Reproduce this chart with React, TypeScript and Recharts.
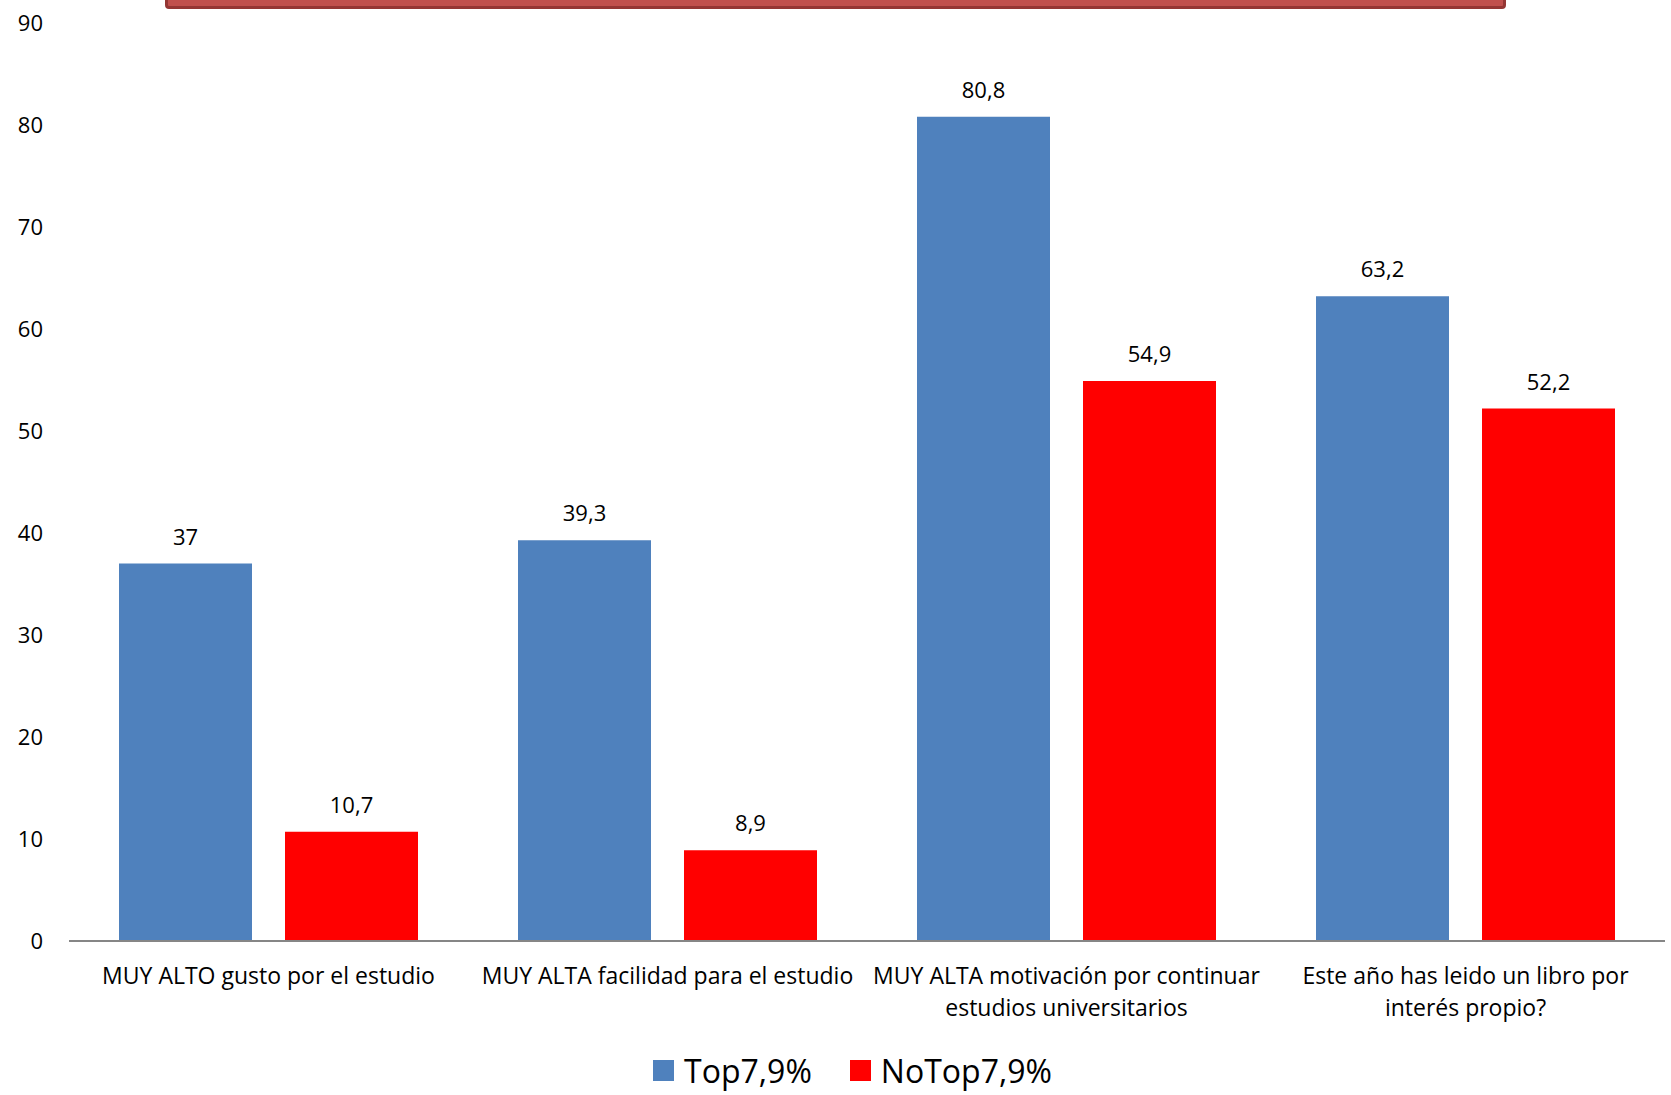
import { BarChart, Bar, XAxis, YAxis, Legend, LabelList } from "recharts";

const CATEGORIES = [
  "MUY ALTO gusto por el estudio",
  "MUY ALTA facilidad para el estudio",
  "MUY ALTA motivación por continuar\nestudios universitarios",
  "Este año has leido un libro por\ninterés propio?",
];
const TOP_VALUES = [37, 39.3, 80.8, 63.2];
const NOTOP_VALUES = [10.7, 8.9, 54.9, 52.2];
const Y_TICKS = [0, 10, 20, 30, 40, 50, 60, 70, 80, 90];

const SERIES = [
  { key: "top", name: "Top7,9%", color: "#4f81bd" },
  { key: "notop", name: "NoTop7,9%", color: "#ff0000" },
];

const data = CATEGORIES.map((name, i) => ({ name, top: TOP_VALUES[i], notop: NOTOP_VALUES[i] }));

const FONT = "'Open Sans', sans-serif";
const fmt = (v: any) => String(v).replace(".", ",");

function CategoryTick({ x, y, payload }: any) {
  const lines = String(payload.value).split("\n");
  return (
    <text x={x} y={y} textAnchor="middle" fill="#000" fontSize={23} fontFamily={FONT}>
      {lines.map((l, i) => (
        <tspan key={i} x={x} dy={i === 0 ? 43 : 32}>{l}</tspan>
      ))}
    </text>
  );
}

function LegendBox() {
  return (
    <div style={{ display: "flex", justifyContent: "center", alignItems: "center", height: 50, paddingLeft: 40, fontFamily: FONT, fontSize: 32, color: "#000" }}>
      {SERIES.map((s, i) => (
        <div key={s.key} style={{ display: "flex", alignItems: "center", marginLeft: i ? 38 : 0 }}>
          <div style={{ width: 21, height: 21, background: s.color, marginRight: 10 }} />
          <span>{s.name}</span>
        </div>
      ))}
    </div>
  );
}

export default function App() {
  return (
    <div style={{ position: "absolute", left: 0, top: 0, width: 1671, height: 1095, background: "#fff", overflow: "hidden" }}>
      {/* title box, cut off at the top */}
      <div style={{ position: "absolute", left: 165, top: -22, width: 1335, height: 25, background: "#c0504d", border: "3px solid #943634", borderRadius: 4 }} />
      <BarChart width={1671} height={1095} data={data} margin={{ top: 23, right: 6, left: 0, bottom: 0 }}
        barCategoryGap={50} barGap={33}>
        <XAxis dataKey="name" tick={<CategoryTick />} tickLine={false} tickSize={0} tickMargin={0} interval={0} height={104}
          axisLine={{ stroke: "#868686", strokeWidth: 2 }} />
        <YAxis domain={[0, 90]} ticks={Y_TICKS} width={69} axisLine={false} tickLine={false} tickSize={0} tickMargin={26}
          tick={{ fill: "#000", fontSize: 22, fontFamily: FONT }} />
        <Legend verticalAlign="bottom" height={50} content={<LegendBox />} />
        {SERIES.map(s => (
          <Bar key={s.key} dataKey={s.key} name={s.name} fill={s.color} barSize={133} isAnimationActive={false}>
            <LabelList dataKey={s.key} position="top" offset={19} formatter={fmt} style={{ fill: "#000", fontSize: 22, fontFamily: FONT }} />
          </Bar>
        ))}
      </BarChart>
    </div>
  );
}
